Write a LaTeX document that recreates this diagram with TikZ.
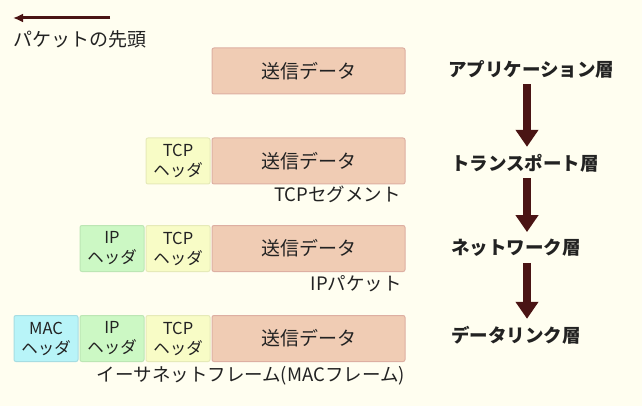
\documentclass[tikz,border=0pt]{standalone}
\usepackage{fontspec}
\setmainfont{Noto Sans CJK JP}
\usetikzlibrary{arrows.meta,positioning}

\definecolor{bgcol}{HTML}{FFFEF0}
\definecolor{textcol}{HTML}{222222}
\definecolor{arrowcol}{HTML}{4A1414}
\definecolor{datafill}{HTML}{F0CCB4}
\definecolor{dataline}{HTML}{DDAFA2}
\definecolor{tcpfill}{HTML}{F8FCC6}
\definecolor{tcpline}{HTML}{E6EAB8}
\definecolor{ipfill}{HTML}{CCF8C4}
\definecolor{ipline}{HTML}{BCE6B4}
\definecolor{macfill}{HTML}{B8F4F8}
\definecolor{macline}{HTML}{A6DDE2}

\tikzset{
  pkt/.style={draw=#1line, fill=#1fill, rounded corners=2pt, line width=1pt,
    minimum height=46pt, inner sep=0pt, align=center, text=textcol},
  databox/.style={pkt=data, minimum width=193pt, font=\fontsize{19}{20}\selectfont},
  hdrbox/.style={pkt=#1, minimum width=64pt, font=\fontsize{16.5}{20}\selectfont},
  layerlabel/.style={anchor=west, inner sep=0pt, text=textcol, font=\fontsize{18.5}{20}\selectfont\bfseries},
  pktlabel/.style={anchor=east, inner sep=0pt, text=textcol, font=\fontsize{18.5}{20}\selectfont},
  layerarrow/.style={arrowcol, line width=8pt, -{Triangle[width=22pt,length=17pt]},
    shorten <=6pt, shorten >=7pt}
}

\begin{document}
\begin{tikzpicture}[x=1pt,y=-1pt]
  \fill[bgcol] (0,0) rectangle (642,406);

  % packet head
  \coordinate (headtail) at (110,18);
  \coordinate (headtip) at (13,18);
  \draw[arrowcol, line width=3pt, -{Latex[length=10pt,width=9pt]}] (headtail) -- (headtip);
  \node[anchor=west, inner sep=0pt, text=textcol, font=\fontsize{19}{20}\selectfont] (headlabel) at (13,39) {パケットの先頭};

  % application
  \node[databox] (appdata) at (308.5,71) {送信データ};

  % transport
  \node[databox] (transdata) at (308.5,161) {送信データ};
  \node[hdrbox=tcp, left=1pt of transdata] (transtcp) {TCP\\ヘッダ};
  \node[pktlabel] (seglabel) at (401,194) {TCPセグメント};

  % network
  \node[databox] (netdata) at (308.5,248.5) {送信データ};
  \node[hdrbox=tcp, left=1pt of netdata] (nettcp) {TCP\\ヘッダ};
  \node[hdrbox=ip, left=1pt of nettcp] (netip) {IP\\ヘッダ};
  \node[pktlabel] (ipplabel) at (402,284) {IPパケット};

  % data link
  \node[databox] (linkdata) at (308.5,338.5) {送信データ};
  \node[hdrbox=tcp, left=1pt of linkdata] (linktcp) {TCP\\ヘッダ};
  \node[hdrbox=ip, left=1pt of linktcp] (linkip) {IP\\ヘッダ};
  \node[hdrbox=mac, left=1pt of linkip] (linkmac) {MAC\\ヘッダ};
  \node[pktlabel] (framelabel) at (405,376) {イーサネットフレーム(MACフレーム)};

  % layers
  \node[layerlabel] (applabel) at (448,69) {アプリケーション層};
  \node[layerlabel] (translabel) at (451,163) {トランスポート層};
  \node[layerlabel] (netlabel) at (451,248) {ネットワーク層};
  \node[layerlabel] (linklabel) at (451,335) {データリンク層};

  \coordinate (ax) at (527,0);
  \draw[layerarrow] (ax |- applabel.south) -- (ax |- translabel.north);
  \draw[layerarrow] (ax |- translabel.south) -- (ax |- netlabel.north);
  \draw[layerarrow] (ax |- netlabel.south) -- (ax |- linklabel.north);
\end{tikzpicture}
\end{document}
